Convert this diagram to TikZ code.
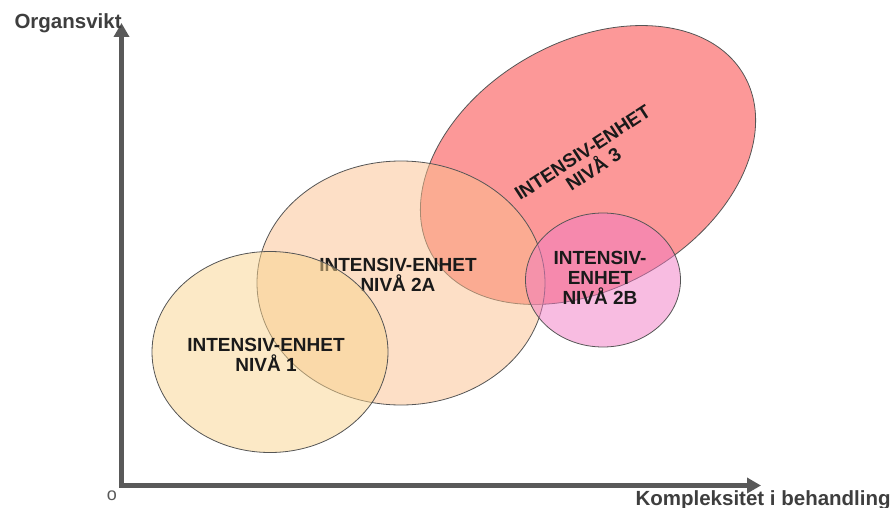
\documentclass[tikz,border=0pt]{standalone}
\usepackage{fontspec}
\setmainfont{Liberation Sans}
\usetikzlibrary{shapes.geometric,arrows.meta}
\definecolor{axisgray}{HTML}{595959}
\definecolor{zoneline}{HTML}{555555}
\definecolor{labelink}{HTML}{1A1A1A}
\definecolor{levelone}{HTML}{F9D38D}
\definecolor{leveltwoa}{HTML}{FBBF8D}
\definecolor{leveltwob}{HTML}{F17AC3}
\definecolor{levelthree}{HTML}{F93232}
\tikzset{
  zone/.style={ellipse,draw=zoneline,line width=0.8pt,fill opacity=0.5,inner sep=0pt},
  zonelabel/.style={text=labelink,align=center,font=\bfseries\fontsize{19}{20}\selectfont},
  axislabel/.style={text=axisgray!70!black,font=\bfseries\fontsize{20.5}{22}\selectfont},
  axis/.style={line width=5pt,draw=axisgray,line join=miter,
    {Triangle[length=14pt,width=15pt]}-{Triangle[length=14pt,width=15pt]}}
}
\begin{document}
\begin{tikzpicture}[x=1pt,y=-1pt]
  \useasboundingbox (0,0) rectangle (891,508);
  % axes
  \coordinate (top) at (121.5,23);
  \coordinate (origin) at (121.5,485.5);
  \coordinate (right) at (761,485.5);
  \draw[axis] (top) -- (origin) -- (right);
  \node[axislabel,anchor=base west] (ylab) at (11,29) {Organsvikt};
  \node[axislabel,anchor=base west] (xlab) at (632,505) {Kompleksitet i behandling};
  \node[text=axisgray,font=\fontsize{18}{18}\selectfont] (zero) at (112,496) {o};
  % zones
  \node[zone,fill=levelthree,rotate=30,minimum width=360,minimum height=246] (n3) at (588,165) {};
  \node[zone,fill=leveltwoa,minimum width=288,minimum height=244] (n2a) at (401,283) {};
  \node[zonelabel] (l2a) at (398,275) {INTENSIV-ENHET\\NIVÅ 2A};
  \node[zone,fill=levelone,minimum width=236,minimum height=201] (n1) at (270,352) {};
  \node[zone,fill=leveltwob,minimum width=155,minimum height=134] (n2b) at (603,280) {};
  \node[zonelabel] (l1) at (266,355) {INTENSIV-ENHET\\NIVÅ 1};
  \node[zonelabel] (l2b) at (600,278) {INTENSIV-\\ENHET\\NIVÅ 2B};
  \node[zonelabel,rotate=33] (l3) at (588,161) {INTENSIV-ENHET\\NIVÅ 3};
\end{tikzpicture}
\end{document}
